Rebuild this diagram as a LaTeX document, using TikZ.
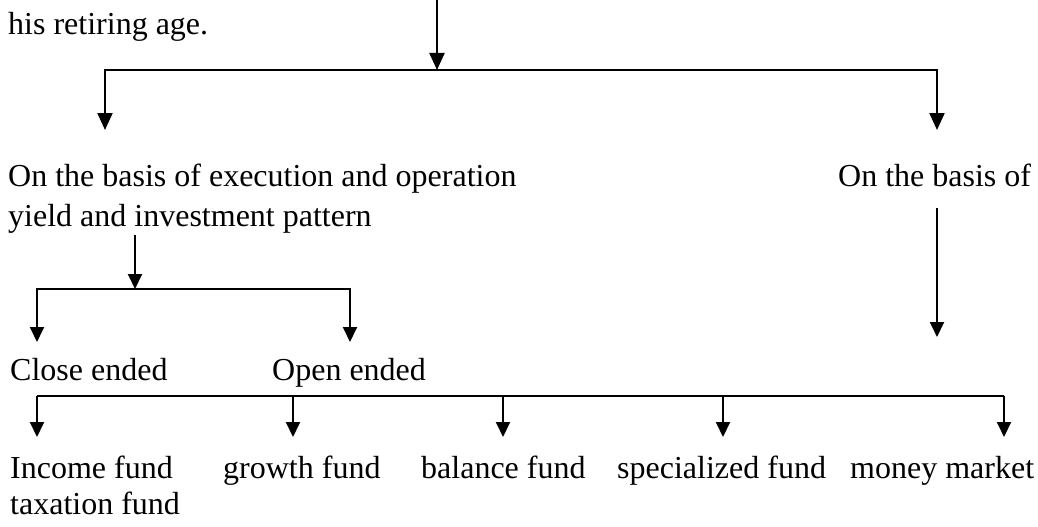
\documentclass[tikz,border=0pt]{standalone}
\usepackage{fontspec}
\setmainfont{Liberation Serif}
\usetikzlibrary{arrows.meta}
\begin{document}
\begin{tikzpicture}[x=1pt,y=-1pt,
  lbl/.style={anchor=base west,inner sep=0pt,font=\fontsize{32}{38}\selectfont},
  bigarr/.style={line width=2.2pt,-{Triangle[width=15pt,length=17pt]}},
  arr/.style={line width=1.9pt,-{Triangle[width=14pt,length=15pt]}},
  bar/.style={line width=1.8pt}]
\useasboundingbox (0,0) rectangle (1038,527);

% text labels
\node[lbl] (ret)    at (8,35)    {his retiring age.};
\node[lbl] (execA)  at (8,186)   {On the basis of execution and operation};
\node[lbl] (execB)  at (8,226)   {yield and investment pattern};
\node[lbl] (basis)  at (838,186) {On the basis of};
\node[lbl] (close)  at (10,380)  {Close ended};
\node[lbl] (open)   at (272,380) {Open ended};
\node[lbl] (income) at (10,478)  {Income fund};
\node[lbl] (tax)    at (10,514)  {taxation fund};
\node[lbl] (growth) at (223,478) {growth fund};
\node[lbl] (bal)    at (421,478) {balance fund};
\node[lbl] (spec)   at (617,478) {specialized fund};
\node[lbl] (money)  at (850,478) {money market};

% first split
\coordinate (src) at (437,0);
\coordinate (j1)  at (437,70);
\coordinate (t1L) at (105,130);
\coordinate (t1R) at (937,130);
\draw[bigarr] (src) -- (j1);
\draw[bigarr] (j1) -| (t1L);
\draw[bigarr] (j1) -| (t1R);

% right branch
\coordinate (r0) at (937,208);
\coordinate (r1) at (937,337);
\draw[arr] (r0) -- (r1);

% left branch: close / open ended
\coordinate (l0)  at (135,235);
\coordinate (j2)  at (135,289);
\coordinate (t2L) at (37,342);
\coordinate (t2R) at (350,342);
\draw[arr] (l0) -- (j2);
\draw[arr] (j2) -| (t2L);
\draw[arr] (j2) -| (t2R);

% fund types
\coordinate (b1) at (37,396);
\coordinate (b2) at (293,396);
\coordinate (b3) at (503,396);
\coordinate (b4) at (723,396);
\coordinate (b5) at (1004,396);
\draw[bar] (b1) -- (b5);
\foreach \c in {b1,b2,b3,b4,b5}
  \draw[arr] (\c) -- ++(0,41);
\end{tikzpicture}
\end{document}
